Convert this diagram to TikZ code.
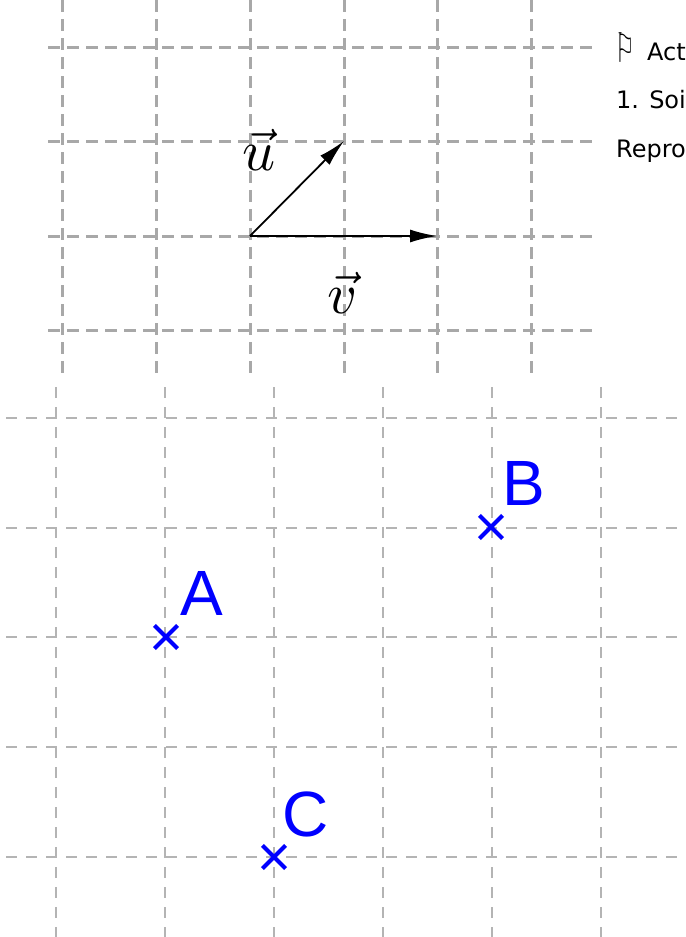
\documentclass[tikz,border=0pt]{standalone}
\usepackage{fontspec}
\newfontfamily\lblfont{Liberation Sans}
\newfontfamily\txtfont{DejaVu Sans}
\usetikzlibrary{arrows.meta,shapes.misc}
\definecolor{gridA}{RGB}{168,168,168}
\definecolor{gridB}{RGB}{180,180,180}
\definecolor{ptblue}{RGB}{0,0,255}
\tikzset{
  gridtop/.style={draw=gridA, line width=3bp, dash pattern=on 12bp off 7bp},
  gridbot/.style={draw=gridB, line width=1.5bp, dash pattern=on 11bp off 9bp},
  vecarrow/.style={line width=1.8bp, -{Latex[length=27bp,width=13bp]}},
  veclbl/.style={anchor=base, inner sep=0pt},
  pt/.style={cross out, draw=ptblue, line width=4.2bp, minimum size=19bp, inner sep=0pt},
  ptlbl/.style={anchor=base west, inner sep=0pt, text=ptblue, font=\lblfont\fontsize{64bp}{66bp}\selectfont},
  txt/.style={anchor=base west, inner sep=0pt, font=\txtfont\fontsize{24bp}{28bp}\selectfont}
}
\begin{document}
\begin{tikzpicture}[x=1bp,y=-1bp]
\useasboundingbox (0,0) rectangle (686,937);
\begin{scope}
\clip (0,0) rectangle (686,937);
% top grid
\foreach \x in {62,156,250,344,437,531} \draw[gridtop] (\x,0) -- (\x,376);
\foreach \y in {47,141,236,330} \draw[gridtop] (48,\y) -- (592,\y);
% bottom grid
\foreach \x in {56,165,274,383,492,601} \draw[gridbot] (\x,387) -- (\x,937);
\foreach \y in {418,528,637,747,857} \draw[gridbot] (6,\y) -- (690,\y);
% vectors
\coordinate (O) at (250,236);
\coordinate (U) at (344,141);
\coordinate (V) at (437,236);
\draw[vecarrow] (O) -- (U);
\draw[vecarrow] (O) -- (V);
\node[veclbl] (ulbl) at (259,170) {\scalebox{5.8}{$\vec{u}$}};
\node[veclbl] (vlbl) at (343,313) {\scalebox{5.8}{$\vec{v}$}};
% points
\node[pt] (A) at (166,637) {};
\node[pt] (B) at (491,527) {};
\node[pt] (C) at (274,857) {};
\node[ptlbl] (Alabel) at (180,615) {A};
\node[ptlbl] (Blabel) at (502,505) {B};
\node[ptlbl] (Clabel) at (282,836) {C};
% text
\node[txt] (flag) at (615,62) {\scalebox{0.9}[1.7]{⚐}};
\node[txt] (t1) at (647,60) {Act};
\node[txt] (t2) at (616,108) {1. Soi};
\node[txt] (t3) at (616,157) {Repro};
\end{scope}
\end{tikzpicture}
\end{document}
